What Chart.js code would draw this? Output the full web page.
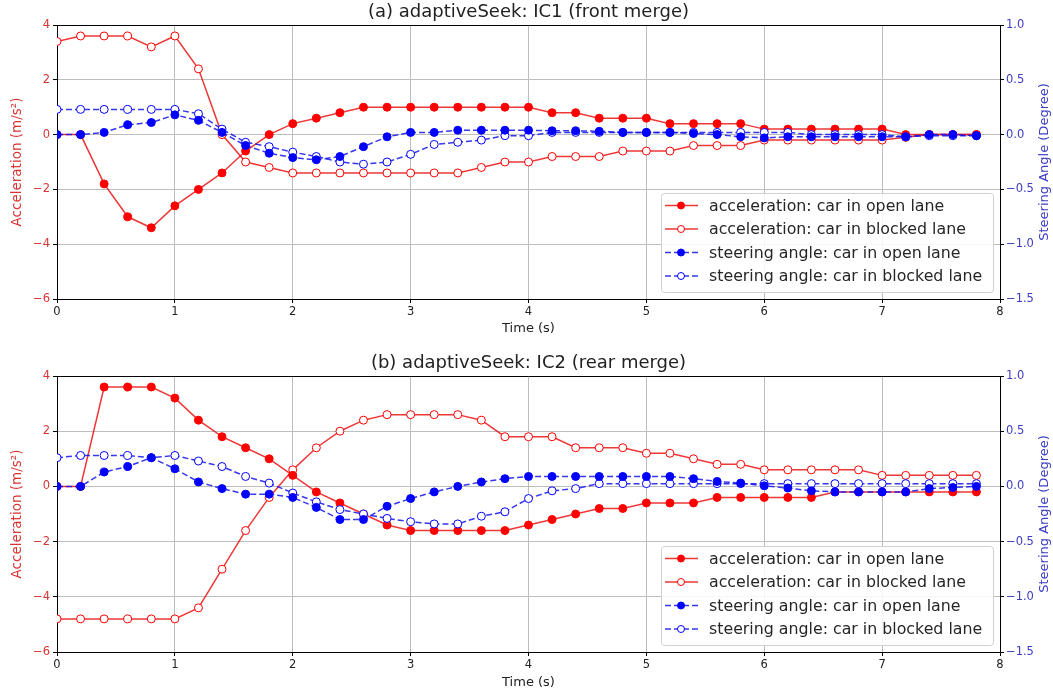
<!DOCTYPE html>
<html>
<head>
<meta charset="utf-8">
<script src="https://cdn.jsdelivr.net/npm/chart.js@4.4.1/dist/chart.umd.min.js"></script>
<style>
  body { margin: 0; background: #fff; }
  .panel { position: absolute; left: 0; width: 1053px; height: 347px; }
</style>
</head>
<body>
<div class="panel" style="top:0"><canvas id="chartA" width="1053" height="347"></canvas></div>
<div class="panel" style="top:347px"><canvas id="chartB" width="1053" height="347"></canvas></div>
<script>
// time stamps (s)
const time = [0, 0.2, 0.4, 0.6, 0.8, 1.0, 1.2, 1.4, 1.6, 1.8,
              2.0, 2.2, 2.4, 2.6, 2.8, 3.0, 3.2, 3.4, 3.6, 3.8,
              4.0, 4.2, 4.4, 4.6, 4.8, 5.0, 5.2, 5.4, 5.6, 5.8,
              6.0, 6.2, 6.4, 6.6, 6.8, 7.0, 7.2, 7.4, 7.6, 7.8];

// (a) IC1 front merge
const accOpenA = [0, 0, -1.8, -3.0, -3.4, -2.6, -2.0, -1.4, -0.6, 0.0,
                  0.4, 0.6, 0.8, 1.0, 1.0, 1.0, 1.0, 1.0, 1.0, 1.0,
                  1.0, 0.8, 0.8, 0.6, 0.6, 0.6, 0.4, 0.4, 0.4, 0.4,
                  0.2, 0.2, 0.2, 0.2, 0.2, 0.2, 0.0, 0.0, 0.0, 0.0];
const accBlockedA = [3.4, 3.6, 3.6, 3.6, 3.2, 3.6, 2.4, 0.0, -1.0, -1.2,
                     -1.4, -1.4, -1.4, -1.4, -1.4, -1.4, -1.4, -1.4, -1.2, -1.0,
                     -1.0, -0.8, -0.8, -0.8, -0.6, -0.6, -0.6, -0.4, -0.4, -0.4,
                     -0.2, -0.2, -0.2, -0.2, -0.2, -0.2, -0.1, 0.0, 0.0, 0.0];
const steerOpenA = [0, 0, 0.02, 0.09, 0.11, 0.18, 0.13, 0.02, -0.10, -0.17,
                    -0.21, -0.23, -0.20, -0.11, -0.02, 0.02, 0.02, 0.04, 0.04, 0.04,
                    0.04, 0.035, 0.035, 0.03, 0.02, 0.02, 0.02, 0.01, 0.0, -0.02,
                    -0.03, -0.02, -0.02, -0.02, -0.02, -0.02, -0.02, 0.0, 0.0, -0.01];
const steerBlockedA = [0.23, 0.23, 0.23, 0.23, 0.23, 0.23, 0.19, 0.05, -0.07, -0.11,
                       -0.16, -0.20, -0.25, -0.27, -0.25, -0.18, -0.09, -0.07, -0.05, -0.01,
                       -0.01, 0.02, 0.02, 0.02, 0.02, 0.02, 0.02, 0.02, 0.02, 0.02,
                       0.02, 0.02, 0.0, 0.0, 0.0, 0.0, -0.02, -0.01, -0.01, -0.01];

// (b) IC2 rear merge
const accOpenB = [0, 0, 3.6, 3.6, 3.6, 3.2, 2.4, 1.8, 1.4, 1.0,
                  0.4, -0.2, -0.6, -1.0, -1.4, -1.6, -1.6, -1.6, -1.6, -1.6,
                  -1.4, -1.2, -1.0, -0.8, -0.8, -0.6, -0.6, -0.6, -0.4, -0.4,
                  -0.4, -0.4, -0.4, -0.2, -0.2, -0.2, -0.2, -0.2, -0.2, -0.2];
const accBlockedB = [-4.8, -4.8, -4.8, -4.8, -4.8, -4.8, -4.4, -3.0, -1.6, -0.4,
                     0.6, 1.4, 2.0, 2.4, 2.6, 2.6, 2.6, 2.6, 2.4, 1.8,
                     1.8, 1.8, 1.4, 1.4, 1.4, 1.2, 1.2, 1.0, 0.8, 0.8,
                     0.6, 0.6, 0.6, 0.6, 0.6, 0.4, 0.4, 0.4, 0.4, 0.4];
const steerOpenB = [0, 0, 0.13, 0.18, 0.26, 0.16, 0.04, -0.02, -0.07, -0.07,
                    -0.10, -0.19, -0.30, -0.30, -0.18, -0.11, -0.05, 0.0, 0.04, 0.07,
                    0.09, 0.09, 0.09, 0.09, 0.09, 0.09, 0.09, 0.07, 0.045, 0.03,
                    0.005, -0.015, -0.04, -0.05, -0.05, -0.05, -0.05, -0.02, -0.01, 0.0];
const steerBlockedB = [0.26, 0.28, 0.28, 0.28, 0.26, 0.28, 0.23, 0.18, 0.09, 0.03,
                       -0.06, -0.14, -0.21, -0.25, -0.29, -0.32, -0.34, -0.34, -0.27, -0.23,
                       -0.11, -0.04, -0.02, 0.025, 0.025, 0.025, 0.025, 0.025, 0.025, 0.025,
                       0.025, 0.025, 0.025, 0.025, 0.025, 0.025, 0.025, 0.025, 0.025, 0.025];

const seriesLabels = ['acceleration: car in open lane', 'acceleration: car in blocked lane',
                      'steering angle: car in open lane', 'steering angle: car in blocked lane'];
const accTicks = [-6, -4, -2, 0, 2, 4];
const steerTicks = [-1.5, -1.0, -0.5, 0.0, 0.5, 1.0];

const RED_LINE = 'rgba(235,20,20,0.85)';
const BLUE_LINE = 'rgba(20,20,235,0.85)';
const RED_LABEL = '#d93434';
const BLUE_LABEL = '#3c3cc4';

Chart.defaults.font.family = '"DejaVu Sans", sans-serif';

const pts = arr => arr.map((v, i) => ({ x: time[i], y: v }));
const minus = s => String(s).replace('-', '\u2212');

// draws the top spine, title, right axis label and the legend box
const framePlugin = {
  id: 'frame',
  afterDraw(chart, args, opts) {
    const ctx = chart.ctx;
    const a = chart.chartArea;
    ctx.save();
    ctx.strokeStyle = '#000';
    ctx.lineWidth = 1;
    ctx.beginPath();
    ctx.moveTo(a.left, a.top + 0.5);
    ctx.lineTo(a.right, a.top + 0.5);
    ctx.stroke();

    ctx.fillStyle = '#222';
    ctx.font = '18px "DejaVu Sans"';
    ctx.textAlign = 'center';
    ctx.textBaseline = 'middle';
    ctx.fillText(opts.title, (a.left + a.right) / 2, a.top - 13);

    ctx.save();
    ctx.translate(chart.width - 8, (a.top + a.bottom) / 2);
    ctx.rotate(-Math.PI / 2);
    ctx.fillStyle = BLUE_LABEL;
    ctx.font = '13px "DejaVu Sans"';
    ctx.fillText('Steering Angle (Degree)', 0, 0);
    ctx.restore();

    // legend, lower right inside the axes
    const w = 332, h = 99;
    const x0 = a.right - 7 - w, y0 = a.bottom - 7 - h;
    ctx.fillStyle = 'rgba(255,255,255,0.85)';
    ctx.strokeStyle = '#d0d0d0';
    ctx.beginPath();
    ctx.roundRect(x0 + 0.5, y0 + 0.5, w, h, 3);
    ctx.fill();
    ctx.stroke();
    ctx.font = '15.8px "DejaVu Sans"';
    ctx.textAlign = 'left';
    chart.data.datasets.forEach((ds, i) => {
      const y = y0 + 12.5 + i * 23.5;
      ctx.strokeStyle = ds.borderColor;
      ctx.lineWidth = 1.5;
      ctx.setLineDash(ds.borderDash || []);
      ctx.beginPath();
      ctx.moveTo(x0 + 4, y);
      ctx.lineTo(x0 + 37, y);
      ctx.stroke();
      ctx.setLineDash([]);
      ctx.lineWidth = 1;
      ctx.fillStyle = ds.pointBackgroundColor;
      ctx.strokeStyle = ds.pointBorderColor;
      ctx.beginPath();
      ctx.arc(x0 + 20, y, 3.5, 0, Math.PI * 2);
      ctx.fill();
      ctx.stroke();
      ctx.fillStyle = '#262626';
      ctx.fillText(ds.label, x0 + 48, y + 1);
    });
    ctx.restore();
  }
};

function makeChart(id, title, acc1, acc2, st1, st2, topPad, xHeight, xTitlePad) {
  const red = { borderColor: RED_LINE, borderWidth: 1.5, pointRadius: 4, pointBorderWidth: 1,
                pointBorderColor: '#ff0000', yAxisID: 'yA', order: 1 };
  const blue = { borderColor: BLUE_LINE, borderWidth: 1.5, borderDash: [6, 3], pointRadius: 4,
                 pointBorderWidth: 1, pointBorderColor: '#0000ff', yAxisID: 'yS', order: 0 };
  return new Chart(document.getElementById(id), {
    type: 'line',
    data: {
      datasets: [
        { ...red, label: seriesLabels[0], data: pts(acc1), pointBackgroundColor: '#ff0000' },
        { ...red, label: seriesLabels[1], data: pts(acc2), pointBackgroundColor: '#ffffff' },
        { ...blue, label: seriesLabels[2], data: pts(st1), pointBackgroundColor: '#0000ff' },
        { ...blue, label: seriesLabels[3], data: pts(st2), pointBackgroundColor: '#ffffff' }
      ]
    },
    plugins: [framePlugin],
    options: {
      responsive: false,
      animation: false,
      layout: { padding: { top: topPad, left: 0, right: 0, bottom: 0 } },
      plugins: {
        legend: { display: false },
        tooltip: { enabled: false },
        frame: { title: title }
      },
      scales: {
        x: {
          type: 'linear', min: 0, max: 8,
          ticks: { stepSize: 1, color: '#222', font: { size: 11.5 }, padding: 2 },
          grid: { color: '#bdbdbd', tickColor: '#000', tickLength: 4 },
          border: { color: '#000' },
          title: { display: true, text: 'Time (s)', color: '#222', font: { size: 13 },
                   padding: { top: 0, bottom: xTitlePad } },
          afterFit: s => { s.height = xHeight; }
        },
        yA: {
          position: 'left', min: -6, max: 4,
          afterBuildTicks: s => { s.ticks = accTicks.map(v => ({ value: v })); },
          ticks: { color: RED_LABEL, font: { size: 11.5 }, padding: 3, callback: v => minus(v) },
          grid: { color: '#bdbdbd', tickColor: '#000', tickLength: 4 },
          border: { color: '#000' },
          title: { display: true, text: 'Acceleration (m/s\u00b2)', color: RED_LABEL,
                   font: { size: 13.5 }, padding: { top: 9, bottom: 0 } },
          afterFit: s => { s.width = 57; }
        },
        yS: {
          position: 'right', min: -1.5, max: 1,
          afterBuildTicks: s => { s.ticks = steerTicks.map(v => ({ value: v })); },
          ticks: { color: BLUE_LABEL, font: { size: 11.5 }, padding: 2,
                   callback: v => minus(Number(v).toFixed(1)) },
          grid: { drawOnChartArea: false, tickColor: '#000', tickLength: 4 },
          border: { color: '#000' },
          afterFit: s => { s.width = 53; }
        }
      }
    }
  });
}

makeChart('chartA', '(a) adaptiveSeek: IC1 (front merge)',
          accOpenA, accBlockedA, steerOpenA, steerBlockedA, 25, 48, 11);
makeChart('chartB', '(b) adaptiveSeek: IC2 (rear merge)',
          accOpenB, accBlockedB, steerOpenB, steerBlockedB, 29, 42, 4);
</script>
</body>
</html>
